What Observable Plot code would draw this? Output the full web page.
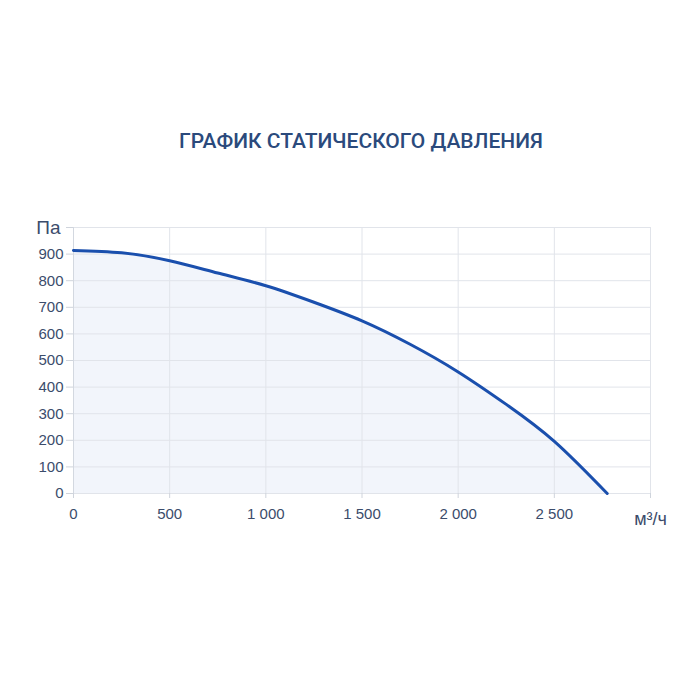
<!DOCTYPE html>
<html>
<head>
<meta charset="utf-8">
<script src="https://cdn.jsdelivr.net/npm/d3@7"></script>
<script src="https://cdn.jsdelivr.net/npm/@observablehq/plot@0.6"></script>
<style>
  html, body { margin: 0; padding: 0; background: #ffffff; }
  #title {
    height: 180px; box-sizing: border-box; padding-top: 129px; padding-left: 22px;
    text-align: center; font-family: Roboto, "Noto Sans", sans-serif; font-weight: 500;
    font-size: 21px; color: #2b4a7c; letter-spacing: 0px;
  }
  #chart svg { display: block; }
</style>
</head>
<body>
<div id="title">ГРАФИК СТАТИЧЕСКОГО ДАВЛЕНИЯ</div>
<div id="chart"></div>
<script>
// Airflow, m³/h
const flow = [0, 250, 500, 750, 1000, 1250, 1500, 1750, 2000, 2250, 2500, 2775];
// Static pressure, Pa
const pressure = [914, 905, 875, 829, 781, 719, 649, 561, 457, 335, 196, 0];

const xTicks = [0, 500, 1000, 1500, 2000, 2500, 3000];
const yTicks = [0, 100, 200, 300, 400, 500, 600, 700, 800, 900, 1000];
const xUnit = "м³/ч";
const yUnit = "Па";

const data = flow.map((f, i) => ({flow: f, pressure: pressure[i]}));
const fmt = d => d3.format(",")(d).replace(/,/g, " ");

const labelColor = "#3b4c6b";
const gridColor = "#e1e4ea";

const chart = Plot.plot({
  width: 700,
  height: 520,
  marginTop: 47,
  marginBottom: 207,
  marginLeft: 73,
  marginRight: 50,
  style: {fontFamily: "'Liberation Sans', Arial, sans-serif", background: "#ffffff"},
  x: {domain: [0, 3000]},
  y: {domain: [0, 1000]},
  marks: [
    Plot.areaY(data, {x: "flow", y: "pressure", curve: "natural", fill: "#f2f5fb"}),
    Plot.gridX(xTicks, {stroke: gridColor, strokeOpacity: 1}),
    Plot.gridY(yTicks, {stroke: gridColor, strokeOpacity: 1}),
    Plot.ruleX([0], {stroke: "#d3d8e0"}),
    Plot.axisX(xTicks, {
      tickFormat: d => d === 3000 ? "" : fmt(d),
      tickSize: 5, tickPadding: 10, stroke: "#cfd4dc", fill: labelColor, fontSize: 15, label: null
    }),
    Plot.axisY(yTicks, {
      tickFormat: d => d === 1000 ? "" : fmt(d),
      tickSize: 7, tickPadding: 3, stroke: "#cfd4dc", fill: labelColor, fontSize: 15, label: null
    }),
    Plot.lineY(data, {x: "flow", y: "pressure", curve: "natural", stroke: "#1a4fad", strokeWidth: 3}),
    Plot.text([yUnit], {x: 0, y: 1000, dx: -13, textAnchor: "end", fontSize: 19, fill: labelColor}),
    Plot.text([xUnit], {x: 3000, y: 0, dy: 26, fontSize: 18, fill: labelColor})
  ]
});
document.getElementById("chart").appendChild(chart);
</script>
</body>
</html>
